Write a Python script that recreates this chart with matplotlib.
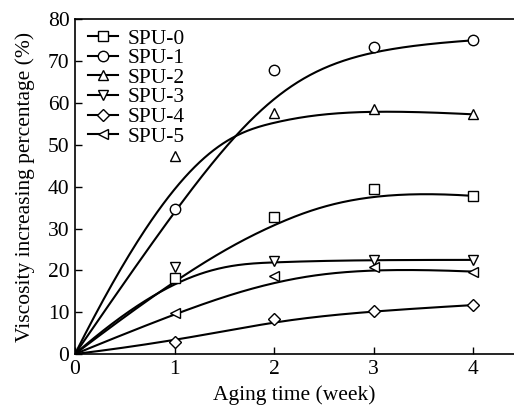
import numpy as np
import matplotlib
matplotlib.use("Agg")
import matplotlib.pyplot as plt

plt.rcParams['font.family'] = ['Liberation Serif', 'DejaVu Serif']
plt.rcParams['mathtext.fontset'] = 'stix'

weeks = [0, 1, 2, 3, 4]
labels = ["SPU-0", "SPU-1", "SPU-2", "SPU-3", "SPU-4", "SPU-5"]
markers = ["s", "o", "^", "v", "D", "<"]
spu0 = [0, 18.1, 32.8, 39.4, 37.8]
spu1 = [0, 34.6, 67.9, 73.3, 75.0]
spu2 = [0, 47.4, 57.6, 58.5, 57.3]
spu3 = [0, 20.7, 22.2, 22.5, 22.5]
spu4 = [0, 2.9, 8.4, 10.3, 11.7]
spu5 = [0, 9.7, 18.7, 20.7, 19.7]
series = [spu0, spu1, spu2, spu3, spu4, spu5]
xticks = [0, 1, 2, 3, 4]
yticks = [0, 10, 20, 30, 40, 50, 60, 70, 80]


def bspline_curve(px, py, k=3, num=300):
    """Clamped B-spline using the data points as control points."""
    px = np.asarray(px, float)
    py = np.asarray(py, float)
    n = len(px)
    inner = np.linspace(0, 1, n - k + 1)
    knots = np.concatenate([np.zeros(k), inner, np.ones(k)])
    t = np.linspace(0, 1, num)
    t[-1] -= 1e-10

    def basis(i, d, tt):
        if d == 0:
            return np.where((knots[i] <= tt) & (tt < knots[i + 1]), 1.0, 0.0)
        a = 0.0
        den1 = knots[i + d] - knots[i]
        if den1 > 0:
            a = (tt - knots[i]) / den1 * basis(i, d - 1, tt)
        b = 0.0
        den2 = knots[i + d + 1] - knots[i + 1]
        if den2 > 0:
            b = (knots[i + d + 1] - tt) / den2 * basis(i + 1, d - 1, tt)
        return a + b

    B = np.array([basis(i, k, t) for i in range(n)])
    return px @ B, py @ B


fig = plt.figure(figsize=(5.14, 4.05), dpi=100)
ax = fig.add_axes([75/514, 51/405, 1 - 75/514, (354-19.4)/405])

for y, m, lab in zip(series, markers, labels):
    cx, cy = bspline_curve(weeks, y)
    ms = 6.5 if m == "D" else 7.5
    ax.plot(cx, cy, color='black', lw=1.5, zorder=2)
    ax.plot(weeks[1:], y[1:], linestyle='none', marker=m, ms=ms,
            mfc='white', mec='black', mew=1.0, zorder=3)
    ax.plot([], [], color='black', lw=1.5, marker=m, ms=ms,
            mfc='white', mec='black', mew=1.0, label=lab)

ax.set_xlim(0, 4.41)
ax.set_ylim(0, 80)
ax.set_xticks(xticks)
ax.set_yticks(yticks)
ax.tick_params(direction='in', length=5, width=1, labelsize=15.5, pad=4)
ax.spines['right'].set_visible(False)
for s in ['left', 'bottom', 'top']:
    ax.spines[s].set_linewidth(1.2)
ax.set_xlabel("Aging time (week)", fontsize=15.5, labelpad=5)
ax.set_ylabel("Viscosity increasing percentage (%)", fontsize=15.5, labelpad=9)

leg = ax.legend(loc='upper left', frameon=False, fontsize=15.5, handlelength=1.4,
                handletextpad=0.45, labelspacing=-0.02, borderaxespad=0.0,
                borderpad=0.0, bbox_to_anchor=(13/439, 0.973))

fig.savefig("out.png", dpi=100)
